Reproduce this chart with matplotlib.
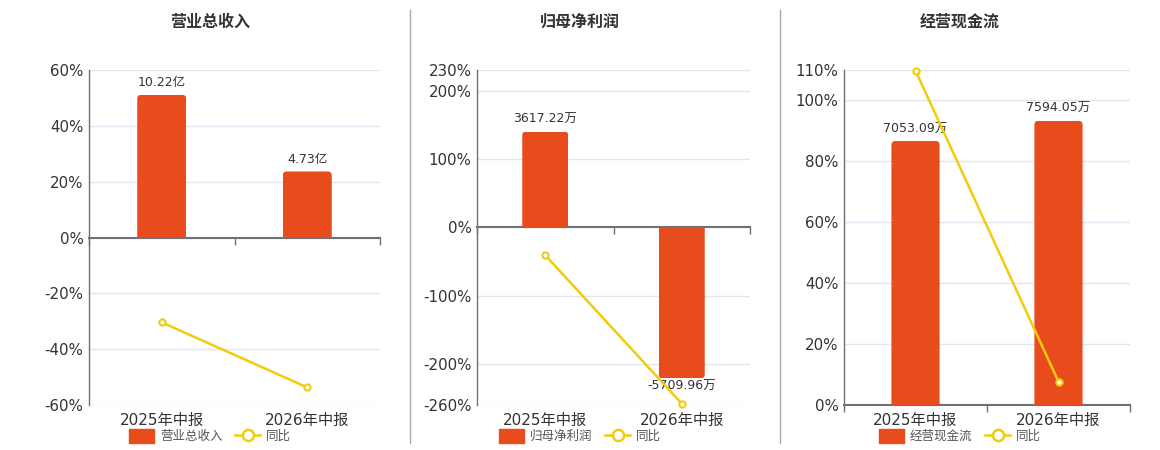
import matplotlib.pyplot as plt
from matplotlib.patches import FancyBboxPatch
from matplotlib.lines import Line2D
from matplotlib.transforms import blended_transform_factory

plt.rcParams['font.family'] = ['DejaVu Sans', 'Noto Sans CJK SC']

# data
periods = ['2025年中报', '2026年中报']

titles = ['营业总收入', '归母净利润', '经营现金流']

revenue = [10.22, 4.73]            # 亿
revenue_labels = ['10.22亿', '4.73亿']
revenue_yoy = [-30.4, -53.7]       # %

profit = [3617.22, -5709.96]       # 万
profit_labels = ['3617.22万', '-5709.96万']
profit_yoy = [-40.9, -257.9]

cashflow = [7053.09, 7594.05]      # 万
cashflow_labels = ['7053.09万', '7594.05万']
cashflow_yoy = [109.8, 7.67]

pct_ticks = [
    [60, 40, 20, 0, -20, -40, -60],
    [230, 200, 100, 0, -100, -200, -260],
    [110, 100, 80, 60, 40, 20, 0],
]
# bar axis limits so that bars line up with the percent axis like the original
bar_limits = [(-12.0, 12.0), (-6718.0, 5943.0), (0.0, 8950.0)]

BAR_COLOR = '#E84C1D'
LINE_COLOR = '#F2CB0C'
GRID_COLOR = '#E0E6F1'
AXIS_COLOR = '#6E7079'
TEXT_COLOR = '#333333'

FIG_W, FIG_H = 1160, 450
fig = plt.figure(figsize=(FIG_W / 100, FIG_H / 100), dpi=100)

axes_boxes = [
    [89 / FIG_W, 0.1, 291 / FIG_W, 0.7444],
    [477 / FIG_W, 0.1, 273 / FIG_W, 0.7444],
    [844 / FIG_W, 0.1, 286 / FIG_W, 0.7444],
]
panel_centers = [210 / FIG_W, 580 / FIG_W, 960 / FIG_W]

series = [
    (revenue, revenue_labels, revenue_yoy),
    (profit, profit_labels, profit_yoy),
    (cashflow, cashflow_labels, cashflow_yoy),
]


def round_bar_end(axb, bar, box):
    # clip the bar with a box rounded at its far end (about 4px radius)
    x, w = bar.get_x(), bar.get_width()
    y0, h = bar.get_y(), bar.get_height()
    lo, hi = axb.get_ylim()
    sx = box[2] * FIG_W / 2.0
    sy = box[3] * FIG_H / (hi - lo)
    r = 4.0 / sx
    ext = (hi - lo)
    top = y0 + h
    if h >= 0:
        cy, ch = y0 - ext, h + ext
    else:
        cy, ch = top, -h + ext
    clip = FancyBboxPatch((x, cy), w, ch, boxstyle='round,pad=0,rounding_size=%f' % r,
                          mutation_aspect=sx / sy, transform=axb.transData)
    bar.set_clip_path(clip)


def draw_panel(i):
    values, labels, yoy = series[i]
    ticks = pct_ticks[i]
    box = axes_boxes[i]

    ax = fig.add_axes(box)
    ax.set_xlim(-0.5, 1.5)
    ax.set_ylim(min(ticks), max(ticks))
    ax.set_yticks(ticks)
    ax.set_yticklabels(['%d%%' % t for t in ticks])
    ax.tick_params(axis='y', length=0, labelsize=10.8, labelcolor=TEXT_COLOR, pad=4)
    ax.set_xticks([-0.5, 0.5, 1.5])
    ax.set_xticklabels([])
    ax.tick_params(axis='x', direction='out', length=5, color=AXIS_COLOR, width=1)
    ax.grid(axis='y', color=GRID_COLOR, linewidth=1)
    ax.set_axisbelow(True)
    for s in ['top', 'right']:
        ax.spines[s].set_visible(False)
    ax.spines['left'].set_color(AXIS_COLOR)
    ax.spines['left'].set_linewidth(1)
    ax.spines['bottom'].set_position(('data', 0))
    ax.spines['bottom'].set_color(AXIS_COLOR)
    ax.spines['bottom'].set_linewidth(1.5)
    ax.spines['bottom'].set_zorder(5)

    # category labels under the plot frame
    trans = blended_transform_factory(ax.transData, ax.transAxes)
    for k, p in enumerate(periods):
        ax.text(k, -0.045, p, transform=trans, ha='center', va='center',
                fontsize=11, color=TEXT_COLOR)

    # bars on their own hidden scale
    axb = ax.twinx()
    axb.set_ylim(*bar_limits[i])
    axb.set_xlim(-0.5, 1.5)
    axb.axis('off')
    bars = axb.bar(range(len(values)), values, width=0.337, color=BAR_COLOR, zorder=2)
    for b, lab, v in zip(bars, labels, values):
        round_bar_end(axb, b, box)
        if v >= 0:
            axb.annotate(lab, (b.get_x() + b.get_width() / 2, v), xytext=(0, 4),
                         textcoords='offset points', ha='center', va='bottom',
                         fontsize=9, color=TEXT_COLOR, zorder=3)
        else:
            axb.annotate(lab, (b.get_x() + b.get_width() / 2, v), xytext=(0, -1),
                         textcoords='offset points', ha='center', va='top',
                         fontsize=9, color=TEXT_COLOR, zorder=3)

    # yoy line drawn above bars, in percent coordinates
    axb.plot(range(len(yoy)), yoy, transform=ax.transData, color=LINE_COLOR,
             linewidth=1.8, marker='o', markersize=4.5, markerfacecolor='white',
             markeredgecolor=LINE_COLOR, markeredgewidth=1.5, zorder=4, clip_on=False)
    axb.set_ylim(*bar_limits[i])
    axb.set_xlim(-0.5, 1.5)

    fig.text(panel_centers[i], 1 - 22 / FIG_H, titles[i], ha='center', va='center',
             fontsize=11.5, fontweight='bold', color=TEXT_COLOR)

    handles = [
        FancyBboxPatch((0, 0), 1, 1, boxstyle='round,pad=0,rounding_size=0.25',
                       facecolor=BAR_COLOR, edgecolor=BAR_COLOR),
        Line2D([], [], color=LINE_COLOR, linewidth=1.8, marker='o', markersize=8,
               markerfacecolor='white', markeredgecolor=LINE_COLOR, markeredgewidth=1.8),
    ]
    fig.legend(handles, [titles[i], '同比'], loc='center',
               bbox_to_anchor=(panel_centers[i], 1 - 436 / FIG_H), ncol=2, frameon=False,
               fontsize=9, handlelength=2.0, handleheight=1.3, handletextpad=0.5,
               columnspacing=1.0, labelcolor='#555555')


for i in range(3):
    draw_panel(i)

# panel separators
for xs in [410 / FIG_W, 780 / FIG_W]:
    fig.add_artist(Line2D([xs, xs], [1 - 443 / FIG_H, 1 - 10 / FIG_H],
                          transform=fig.transFigure, color='#AAAAAA', linewidth=1))

fig.savefig('out.png', dpi=100)
